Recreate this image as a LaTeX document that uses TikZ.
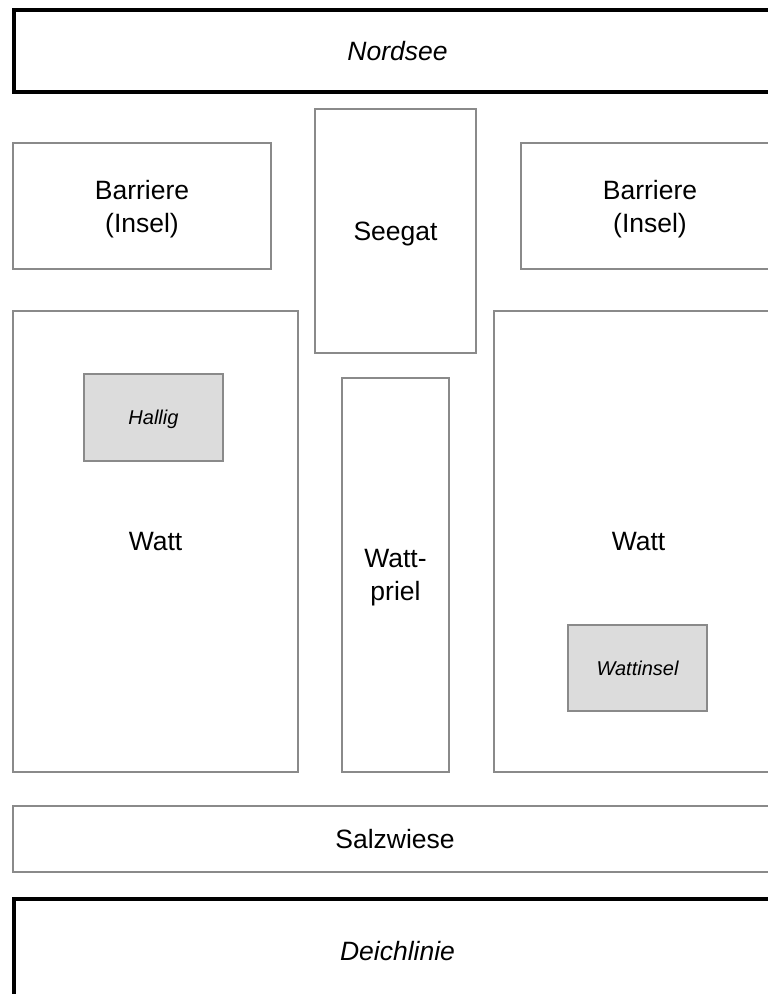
\documentclass[tikz,border=0pt]{standalone}
\usepackage{fontspec}
\setmainfont{Liberation Sans}
\definecolor{rim}{HTML}{8A8A8A}
\definecolor{isle}{HTML}{DCDCDC}

\begin{document}
\begin{tikzpicture}[
  x=1pt, y=-1pt,
  area/.style={draw=rim, line width=1.2pt, inner sep=0pt, align=center,
    text depth=0pt, font=\fontsize{26.5}{33}\selectfont},
  coast/.style={draw=black, line width=4pt, inner sep=0pt, text depth=0pt,
    font=\fontsize{26.5}{33}\selectfont\itshape},
  islet/.style={area, fill=isle, font=\fontsize{20}{24}\selectfont\itshape}
]
  \useasboundingbox (0,0) rectangle (768,994);
  \clip (0,0) rectangle (768,994);

  % sea side
  \node[coast, minimum width=767pt, minimum height=82pt] (nordsee) at (397.5,51) {Nordsee};

  % barrier islands and tidal inlet
  \node[area, minimum width=258pt, minimum height=126pt] (barriereL) at (142,206)
    {Barriere\\(Insel)};
  \node[area, minimum width=161pt, minimum height=244pt] (seegat) at (395.5,231) {Seegat};
  \node[area, minimum width=258pt, minimum height=126pt] (barriereR) at (650,206)
    {Barriere\\(Insel)};

  % tidal flats
  \node[area, minimum width=285pt, minimum height=461pt] (wattL) at (155.5,541.5) {Watt};
  \node[area, minimum width=107pt, minimum height=394pt] (wattpriel) at (395.5,575)
    {Watt-\\priel};
  \node[area, minimum width=289pt, minimum height=461pt] (wattR) at (638.5,541.5) {Watt};
  \node[islet, minimum width=139pt, minimum height=87pt] (hallig) at (153.5,417.5) {Hallig};
  \node[islet, minimum width=139pt, minimum height=86pt] (wattinsel) at (637.5,668) {Wattinsel};

  % land side
  \node[area, minimum width=764pt, minimum height=66pt] (salzwiese) at (395,839) {Salzwiese};
  \node[coast, minimum width=767pt, minimum height=104pt] (deichlinie) at (397.5,951) {Deichlinie};
\end{tikzpicture}
\end{document}
